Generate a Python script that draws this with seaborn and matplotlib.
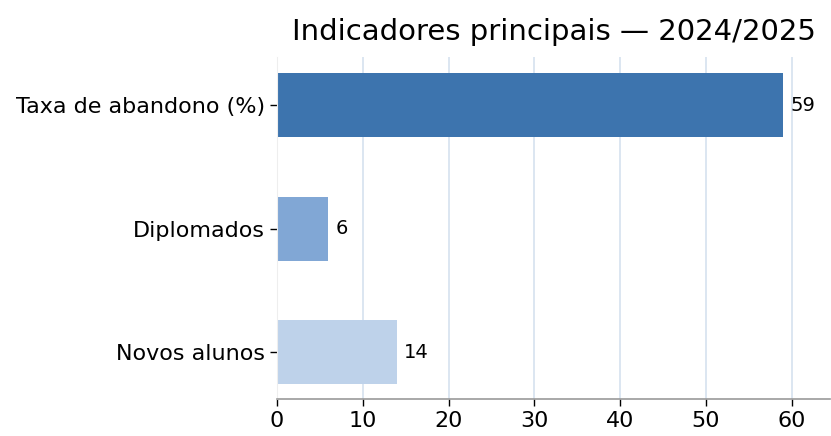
import matplotlib
matplotlib.use("Agg")
import matplotlib.pyplot as plt
import seaborn as sns
import pandas as pd

categories = ["Taxa de abandono (%)", "Diplomados", "Novos alunos"]
values = [59, 6, 14]
colors = ["#3d74ae", "#81a7d5", "#bed2ea"]

sns.set_style("white")
plt.rcParams['font.family'] = ['DejaVu Sans']
plt.rcParams['text.color'] = 'black'
plt.rcParams['xtick.color'] = 'black'
plt.rcParams['ytick.color'] = 'black'

df = pd.DataFrame({"cat": categories, "val": values})
fig = plt.figure(figsize=(8.31, 4.36), dpi=100)
ax = fig.add_axes([0.3333, 0.085, 0.666, 0.784])
sns.barplot(data=df, y="cat", x="val", hue="cat", palette=colors, orient="h",
            width=0.52, legend=False, ax=ax, saturation=1, linewidth=0)
ax.set_xlim(0, 64.5)
ax.set_ylim(2.38, -0.39)
ax.set_xticks(range(0, 70, 10))
ax.xaxis.grid(True, color="#d6e2ef", linewidth=1.2)
ax.set_axisbelow(True)
for c in ax.containers:
    ax.bar_label(c, labels=[f"{v:g}" for v in c.datavalues], padding=5, fontsize=14, color="black")
ax.set_xlabel("")
ax.set_ylabel("")
ax.tick_params(axis="both", labelsize=16, length=5, width=1, color="black", bottom=True, left=True)
for s in ["top", "right"]:
    ax.spines[s].set_visible(False)
ax.spines["left"].set_color("#eeeeee")
ax.spines["bottom"].set_color("#999999")
ax.spines["bottom"].set_linewidth(1.2)
ax.set_title("Indicadores principais — 2024/2025", fontsize=21, pad=12, color="black")
fig.savefig("out.png", dpi=100)
